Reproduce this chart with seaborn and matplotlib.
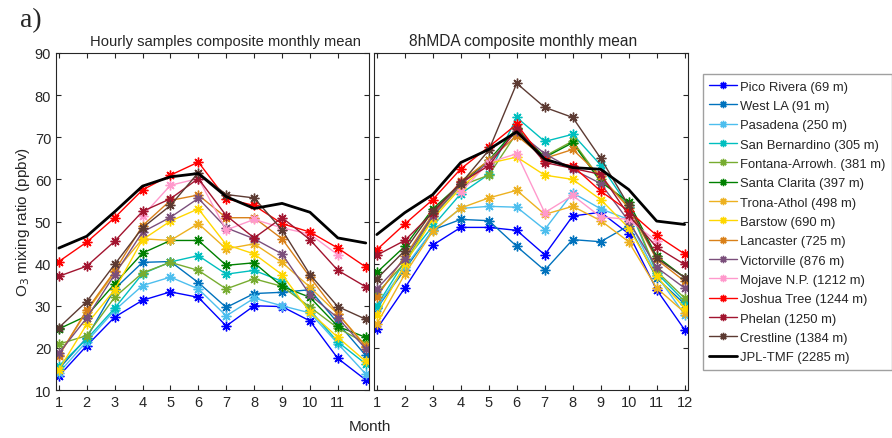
import numpy as np
import pandas as pd
import seaborn as sns
import matplotlib
matplotlib.use("Agg")
import matplotlib.pyplot as plt

nan = np.nan
months = list(range(1, 13))

stations = ["Pico Rivera (69 m)", "West LA (91 m)", "Pasadena (250 m)", "San Bernardino (305 m)",
            "Fontana-Arrowh. (381 m)", "Santa Clarita (397 m)", "Trona-Athol (498 m)", "Barstow (690 m)",
            "Lancaster (725 m)", "Victorville (876 m)", "Mojave N.P. (1212 m)", "Joshua Tree (1244 m)",
            "Phelan (1250 m)", "Crestline (1384 m)", "JPL-TMF (2285 m)"]

colors = ["#0000FF", "#0072BD", "#4DBEEE", "#00BFBF", "#77AC30", "#008000", "#EDB120", "#FFD700",
          "#D98019", "#7B4F7B", "#FF99CC", "#FF0000", "#A2142F", "#5C3A32", "#000000"]

# hourly samples composite monthly mean
pico_h = [13.3, 20.5, 27.3, 31.3, 33.3, 32.0, 25.2, 30.0, 29.8, 26.4, 17.5, 12.4]
westla_h = [15.0, 22.4, 34.0, 40.3, 40.5, 35.5, 29.6, 32.9, 33.2, 33.8, 25.9, 18.2]
pasadena_h = [14.1, 21.5, 28.9, 34.8, 36.8, 34.0, 27.6, 31.8, 30.0, 28.3, 21.0, 13.8]
sanber_h = [15.7, 22.1, 29.4, 37.6, 40.4, 41.9, 37.5, 38.4, 35.8, 29.0, 21.4, 16.2]
fontana_h = [20.9, 22.9, 32.0, 37.8, 40.3, 38.4, 34.0, 36.4, 34.6, 29.7, 24.7, 21.1]
clarita_h = [24.5, 27.6, 35.2, 42.5, 45.5, 45.5, 39.6, 40.2, 34.6, 32.0, 25.1, 22.5]
trona_h = [18.3, 28.6, 37.9, 45.9, 45.5, 49.5, 43.5, 44.7, 40.3, 34.4, 28.0, 20.5]
barstow_h = [14.8, 25.6, 33.8, 45.7, 50.1, 53.0, 44.5, 42.3, 37.4, 28.5, 22.5, 16.8]
lancaster_h = [18.1, 29.0, 38.2, 49.0, 55.0, 56.3, 50.9, 50.9, 45.9, 36.8, 28.1, 20.3]
victor_h = [18.7, 27.1, 37.4, 47.5, 51.0, 55.5, 48.5, 45.9, 42.3, 32.6, 27.1, 19.8]
mojave_h = [nan, nan, nan, 51.3, 58.6, 60.2, 48.0, 50.5, 48.5, 47.0, 42.1, nan]
joshua_h = [40.5, 45.1, 50.9, 57.5, 61.0, 64.1, 55.4, 53.8, 49.5, 47.5, 43.7, 39.2]
phelan_h = [37.0, 39.4, 45.3, 52.4, 55.4, 60.2, 51.4, 46.1, 50.9, 45.7, 38.4, 34.5]
crest_h = [24.8, 31.0, 39.8, 48.5, 53.8, 61.6, 56.4, 55.6, 48.0, 37.4, 29.8, 26.8]
jpl_h = [43.7, 46.5, 52.3, 58.4, 60.6, 61.4, 55.9, 53.1, 54.3, 52.2, 46.1, 44.9]

# 8hMDA composite monthly mean
pico_m = [24.5, 34.2, 44.4, 48.6, 48.6, 47.9, 42.1, 51.3, 52.2, 47.1, 33.8, 24.3]
westla_m = [29.4, 38.6, 48.0, 50.5, 50.2, 44.1, 38.4, 45.7, 45.2, 49.0, 36.6, 30.4]
pasadena_m = [29.6, 39.2, 47.9, 53.1, 53.6, 53.4, 48.1, 56.8, 53.0, 50.5, 37.2, 27.9]
sanber_m = [30.0, 40.6, 48.9, 56.6, 61.2, 74.7, 69.0, 70.7, 63.4, 53.5, 37.8, 31.0]
fontana_m = [32.9, 40.2, 51.2, 58.5, 61.0, 71.0, 65.5, 69.1, 60.0, 53.8, 38.2, 31.8]
clarita_m = [37.9, 44.1, 53.0, 59.0, 64.5, 72.1, 65.2, 68.7, 59.4, 54.6, 41.7, 36.7]
trona_m = [25.7, 37.5, 47.7, 53.2, 55.6, 57.4, 51.7, 53.6, 50.2, 45.2, 34.2, 28.4]
barstow_m = [27.7, 39.8, 50.6, 58.0, 63.8, 65.3, 61.0, 60.0, 55.2, 48.5, 37.0, 29.4]
lancaster_m = [32.1, 41.7, 51.7, 59.5, 64.5, 70.4, 65.0, 67.1, 60.8, 53.2, 41.0, 35.8]
victor_m = [34.0, 41.1, 51.4, 58.8, 64.0, 71.5, 66.1, 62.4, 59.0, 50.1, 39.1, 34.2]
mojave_m = [nan, nan, nan, 57.0, 64.0, 66.1, 52.1, 56.2, 51.1, 50.5, 45.3, nan]
joshua_m = [43.3, 49.4, 55.2, 62.5, 67.7, 73.1, 64.4, 63.2, 57.2, 52.5, 46.7, 42.3]
phelan_m = [42.0, 45.5, 52.1, 59.3, 63.2, 72.0, 64.0, 62.6, 61.2, 51.5, 43.9, 39.8]
crest_m = [36.4, 43.1, 52.5, 59.0, 66.9, 82.8, 77.1, 74.7, 65.0, 53.8, 41.3, 36.7]
jpl_m = [46.9, 52.1, 56.4, 64.0, 67.1, 71.3, 64.8, 62.8, 62.4, 57.6, 50.1, 49.3]

hourly = [pico_h, westla_h, pasadena_h, sanber_h, fontana_h, clarita_h, trona_h, barstow_h,
          lancaster_h, victor_h, mojave_h, joshua_h, phelan_h, crest_h, jpl_h]
mda8 = [pico_m, westla_m, pasadena_m, sanber_m, fontana_m, clarita_m, trona_m, barstow_m,
        lancaster_m, victor_m, mojave_m, joshua_m, phelan_m, crest_m, jpl_m]

sns.set_style("ticks")
plt.rcParams['font.family'] = ['Liberation Sans', 'DejaVu Sans']
plt.rcParams['axes.edgecolor'] = '#262626'
plt.rcParams['axes.linewidth'] = 0.8

fig = plt.figure(figsize=(8.92, 4.39), dpi=100)
ax1 = fig.add_axes([0.0628, 0.1093, 0.351, 0.7677])
ax2 = fig.add_axes([0.4193, 0.1093, 0.352, 0.7677])

asterisk = (8, 2, 0)


def draw_panel(ax, data, title, xticks, title_x, title_size):
    for name, col, vals in zip(stations, colors, data):
        df = pd.DataFrame({"month": months, "o3": vals}).dropna()
        if name.startswith("JPL"):
            sns.lineplot(data=df, x="month", y="o3", ax=ax, color=col, linewidth=2, label=name)
        else:
            sns.lineplot(data=df, x="month", y="o3", ax=ax, color=col, linewidth=1,
                         marker=asterisk, markersize=7, markeredgewidth=1,
                         markeredgecolor=col, label=name)
    ax.set_xlim(0.9, 12.12)
    ax.set_ylim(10, 90)
    ax.set_xticks(xticks)
    ax.set_yticks(range(10, 91, 10))
    ax.tick_params(direction='in', length=3.5, width=0.8, top=True, right=True,
                   labelsize=10.5, colors='#262626')
    ax.set_xlabel("")
    ax.set_ylabel("")
    ax.set_title(title, fontsize=title_size, pad=6, x=title_x)
    ax.legend().remove()


draw_panel(ax1, hourly, "Hourly samples composite monthly mean", range(1, 12), 0.54, 10.6)
draw_panel(ax2, mda8, "8hMDA composite monthly mean", range(1, 13), 0.476, 11.2)
ax2.set_yticklabels([])

handles, labels = ax2.get_legend_handles_labels()
fig.legend(handles, labels, loc='upper left', bbox_to_anchor=(0.788, 0.829), borderaxespad=0,
           fontsize=9.4, frameon=True, fancybox=False, edgecolor='#a0a0a0', framealpha=1,
           handlelength=2.1, handletextpad=0.25, labelspacing=0.55, borderpad=0.5,
           markerscale=0.75)

fig.text(0.415, 0.028, "Month", ha='center', va='center', fontsize=11)
fig.text(0.026, 0.495, "O$_3$ mixing ratio (ppbv)", ha='center', va='center',
         rotation=90, fontsize=11)
fig.text(0.022, 0.952, "a)", ha='left', va='center', fontsize=20, family='Liberation Serif')

fig.savefig("out.png", dpi=100)
